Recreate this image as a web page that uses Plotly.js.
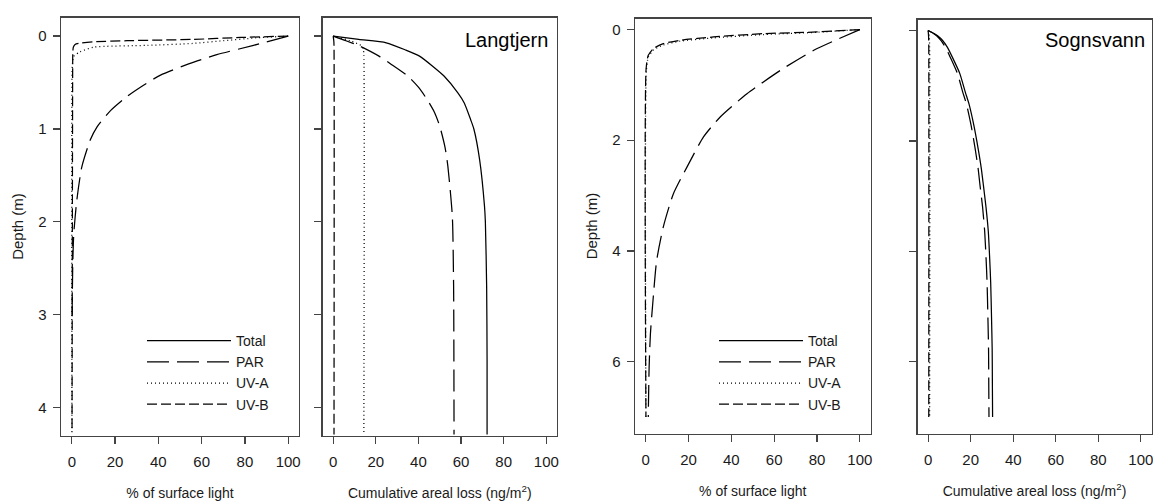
<!DOCTYPE html>
<html>
<head>
<meta charset="utf-8">
<script src="https://cdn.plot.ly/plotly-3.0.1.min.js"></script>
<style>
  html, body { margin: 0; padding: 0; background: #ffffff; }
  #chart { width: 1153px; height: 501px; }
</style>
</head>
<body>
<div id="chart"></div>
<script>
// ---------- Langtjern: % of surface light ----------
const langLightParDepth = [0, 0.1, 0.2, 0.3, 0.42, 0.55, 0.65, 0.8, 0.98, 1.12, 1.41, 1.77, 2.13, 2.5, 3.0];
const langLightParValue = [100, 84, 67, 54, 41, 31.7, 25.5, 18, 11.6, 8.5, 4.6, 2.3, 0.9, 0.4, 0.15];
const langLightUvaDepth = [0, 0.02, 0.05, 0.079, 0.1, 0.12, 0.17, 0.22, 0.3, 0.4, 4.27];
const langLightUvaValue = [100, 85, 70, 56, 35, 10, 3.8, 0.8, 0.3, 0.1, 0.05];
const langLightUvbDepth = [0, 0.015, 0.036, 0.05, 0.061, 0.075, 0.09, 0.12, 0.18, 0.3, 4.27];
const langLightUvbValue = [100, 78, 56, 25.5, 10, 4, 1.5, 0.7, 0.45, 0.4, 0.1];

// ---------- Langtjern: cumulative areal loss ----------
const langLossTotalDepth = [0, 0.036, 0.072, 0.15, 0.216, 0.327, 0.43, 0.611, 0.72, 0.9, 1.0, 1.33, 1.835, 2.0, 2.7, 3.5, 4.29];
const langLossTotalValue = [0, 12, 24.9, 34, 40.5, 46.8, 52, 58.5, 61.5, 64.5, 66, 68.7, 71, 71.4, 72, 72.2, 72.2];
const langLossParDepth = [0, 0.05, 0.108, 0.216, 0.3, 0.43, 0.55, 0.68, 0.82, 0.97, 1.2, 1.4, 1.94, 2.7, 4.29];
const langLossParValue = [0, 6, 12.5, 21.5, 27, 35, 40, 44, 47.5, 50, 52.5, 53.8, 55.9, 56.5, 56.7];
const langLossUvaDepth = [0, 0.05, 0.108, 0.15, 0.2, 4.29];
const langLossUvaValue = [0, 8, 13.5, 14.2, 14.4, 14.4];
const langLossUvbDepth = [0, 0.05, 0.1, 4.29];
const langLossUvbValue = [0, 0.3, 0.4, 0.4];

// ---------- Sognsvann: % of surface light ----------
const sognLightParDepth = [0, 0.375, 0.737, 1.16, 1.58, 1.94, 2.49, 2.97, 3.57, 4.18, 4.9, 5.5, 6.1, 7.0];
const sognLightParValue = [100, 78.5, 62.9, 47.3, 34.8, 27, 19.2, 12.9, 8.2, 5.1, 3.4, 2.2, 1.6, 1.2];
const sognLightUvaDepth = [0, 0.05, 0.09, 0.15, 0.21, 0.28, 0.37, 0.5, 0.75, 7.0];
const sognLightUvaValue = [100, 80, 55, 31.7, 16, 8.2, 3.6, 1.2, 0.3, 0.1];
const sognLightUvbDepth = [0, 0.043, 0.073, 0.134, 0.194, 0.254, 0.344, 0.465, 0.706, 7.0];
const sognLightUvbValue = [100, 80, 55, 31.7, 16, 8.2, 3.6, 1.2, 0.2, 0.1];

// ---------- Sognsvann: cumulative areal loss ----------
const sognLossDepth = [0, 0.05, 0.1, 0.18, 0.3, 0.5, 0.78, 1.12, 1.33, 1.72, 2.14, 2.5, 2.81, 3.2, 3.65, 4.1, 4.56, 5.2, 5.77, 6.4, 7.0];
const sognLossTotalValue = [0, 2.6, 4.6, 6.8, 9.0, 11.6, 14.9, 17.5, 19.2, 21.5, 23.5, 25, 26, 27.2, 28.3, 28.9, 29.4, 29.8, 30.1, 30.2, 30.3];
const sognLossParValue = [0, 2.3, 4.1, 6.0, 8.1, 10.6, 13.8, 16.3, 18, 20.2, 22.1, 23.5, 24.4, 25.6, 26.6, 27.2, 27.7, 28.1, 28.4, 28.5, 28.6];
const sognLossUvaDepth = [0, 0.1, 0.3, 7.0];
const sognLossUvaValue = [0, 0.5, 0.7, 0.7];
const sognLossUvbDepth = [0, 0.1, 0.3, 7.0];
const sognLossUvbValue = [0, 0.2, 0.3, 0.3];

// ---------- labels ----------
const seriesNames = ['Total', 'PAR', 'UV-A', 'UV-B'];
const lakeNames = ['Langtjern', 'Sognsvann'];
const xTickVals = [0, 20, 40, 60, 80, 100];
const langDepthTicks = [0, 1, 2, 3, 4];
const sognDepthTicks = [0, 2, 4, 6];
const xTitleLight = '% of surface light';
const xTitleLoss = 'Cumulative areal loss (ng/m<sup>2</sup>)';
const yTitle = 'Depth (m)';

// ---------- styles ----------
const W = 1153, H = 501;
const FONT = 'Liberation Sans, Arial, sans-serif';
const dashes = {
  'Total': 'solid',
  'PAR': '22px,8px',
  'UV-A': '1px,3px',
  'UV-B': '10px,4px'
};
function line(name, x, y, xa, ya, legendId) {
  return {
    type: 'scatter', mode: 'lines', name: name,
    x: x, y: y, xaxis: xa, yaxis: ya,
    line: { color: '#000000', width: 1.25, dash: dashes[name], shape: 'spline', smoothing: 0.6 },
    showlegend: !!legendId,
    legend: legendId || 'legend',
    hoverinfo: 'x+y+name'
  };
}

const traces = [
  line(seriesNames[1], langLightParValue, langLightParDepth, 'x', 'y'),
  line(seriesNames[2], langLightUvaValue, langLightUvaDepth, 'x', 'y'),
  line(seriesNames[3], langLightUvbValue, langLightUvbDepth, 'x', 'y'),

  line(seriesNames[0], langLossTotalValue, langLossTotalDepth, 'x2', 'y2', 'legend'),
  line(seriesNames[1], langLossParValue, langLossParDepth, 'x2', 'y2', 'legend'),
  line(seriesNames[2], langLossUvaValue, langLossUvaDepth, 'x2', 'y2', 'legend'),
  line(seriesNames[3], langLossUvbValue, langLossUvbDepth, 'x2', 'y2', 'legend'),

  line(seriesNames[1], sognLightParValue, sognLightParDepth, 'x3', 'y3'),
  line(seriesNames[2], sognLightUvaValue, sognLightUvaDepth, 'x3', 'y3'),
  line(seriesNames[3], sognLightUvbValue, sognLightUvbDepth, 'x3', 'y3'),

  line(seriesNames[0], sognLossTotalValue, sognLossDepth, 'x4', 'y4', 'legend2'),
  line(seriesNames[1], sognLossParValue, sognLossDepth, 'x4', 'y4', 'legend2'),
  line(seriesNames[2], sognLossUvaValue, sognLossUvaDepth, 'x4', 'y4', 'legend2'),
  line(seriesNames[3], sognLossUvbValue, sognLossUvbDepth, 'x4', 'y4', 'legend2')
];

function px2x(a, b) { return [a / W, b / W]; }
function px2y(top, bottom) { return [1 - bottom / H, 1 - top / H]; }

const tickFont = { family: FONT, size: 15, color: '#1a1a1a' };
const titleFont = { family: FONT, size: 14, color: '#1a1a1a' };
const yTitleFont = { family: FONT, size: 15, color: '#1a1a1a' };

function xAxis(domain, anchor, title) {
  return {
    domain: domain, anchor: anchor, range: [-5, 105],
    tickmode: 'array', tickvals: xTickVals,
    ticks: 'outside', ticklen: 7, tickwidth: 1.2, tickcolor: '#444',
    showline: true, mirror: true, linecolor: '#444', linewidth: 1.3,
    showgrid: false, zeroline: false, tickfont: tickFont,
    ticklabelstandoff: 5, ticklabeloverflow: 'allow',
    title: { text: title, font: titleFont, standoff: 19 }
  };
}
function yAxis(domain, anchor, range, tickvals, labels, title) {
  const ax = {
    domain: domain, anchor: anchor, range: range,
    tickmode: 'array', tickvals: tickvals,
    ticks: 'outside', ticklen: 7, tickwidth: 1.2, tickcolor: '#444',
    showline: true, mirror: true, linecolor: '#444', linewidth: 1.3,
    showgrid: false, zeroline: false, tickfont: tickFont,
    showticklabels: labels, ticklabelstandoff: 3
  };
  if (title) ax.title = { text: title, font: yTitleFont, standoff: 11 };
  return ax;
}

const layout = {
  width: W, height: H,
  margin: { l: 0, r: 0, t: 0, b: 0 },
  paper_bgcolor: '#ffffff', plot_bgcolor: '#ffffff',
  font: { family: FONT, color: '#1a1a1a' },
  xaxis: xAxis(px2x(61, 299), 'y', xTitleLight),
  yaxis: yAxis(px2y(17.5, 435.5), 'x', [4.30, -0.20], langDepthTicks, true, yTitle),
  xaxis2: xAxis(px2x(322.5, 557), 'y2', xTitleLoss),
  yaxis2: yAxis(px2y(17.5, 435.5), 'x2', [4.30, -0.20], langDepthTicks, false, null),
  xaxis3: xAxis(px2x(635, 870.5), 'y3', xTitleLight),
  yaxis3: yAxis(px2y(18.5, 433.5), 'x3', [7.30, -0.20], sognDepthTicks, true, yTitle),
  xaxis4: xAxis(px2x(917.5, 1151.5), 'y4', xTitleLoss),
  yaxis4: yAxis(px2y(19.5, 433.5), 'x4', [7.30, -0.20], sognDepthTicks, false, null),
  legend: {
    x: 142 / W, xanchor: 'left', y: 1 - 325 / H, yanchor: 'top',
    itemwidth: 84, bgcolor: 'rgba(0,0,0,0)', borderwidth: 0,
    font: { family: FONT, size: 14, color: '#1a1a1a' }, traceorder: 'normal', tracegroupgap: 0
  },
  legend2: {
    x: 714 / W, xanchor: 'left', y: 1 - 325 / H, yanchor: 'top',
    itemwidth: 84, bgcolor: 'rgba(0,0,0,0)', borderwidth: 0,
    font: { family: FONT, size: 14, color: '#1a1a1a' }, traceorder: 'normal', tracegroupgap: 0
  },
  annotations: [
    { text: lakeNames[0], xref: 'paper', yref: 'paper', x: 550 / W, y: 1 - 40 / H,
      xanchor: 'right', yanchor: 'middle', showarrow: false,
      font: { family: FONT, size: 20, color: '#000000' } },
    { text: lakeNames[1], xref: 'paper', yref: 'paper', x: 1147 / W, y: 1 - 40 / H,
      xanchor: 'right', yanchor: 'middle', showarrow: false,
      font: { family: FONT, size: 20, color: '#000000' } }
  ],
  showlegend: true
};

Plotly.newPlot('chart', traces, layout, { staticPlot: true, displayModeBar: false });
</script>
</body>
</html>
